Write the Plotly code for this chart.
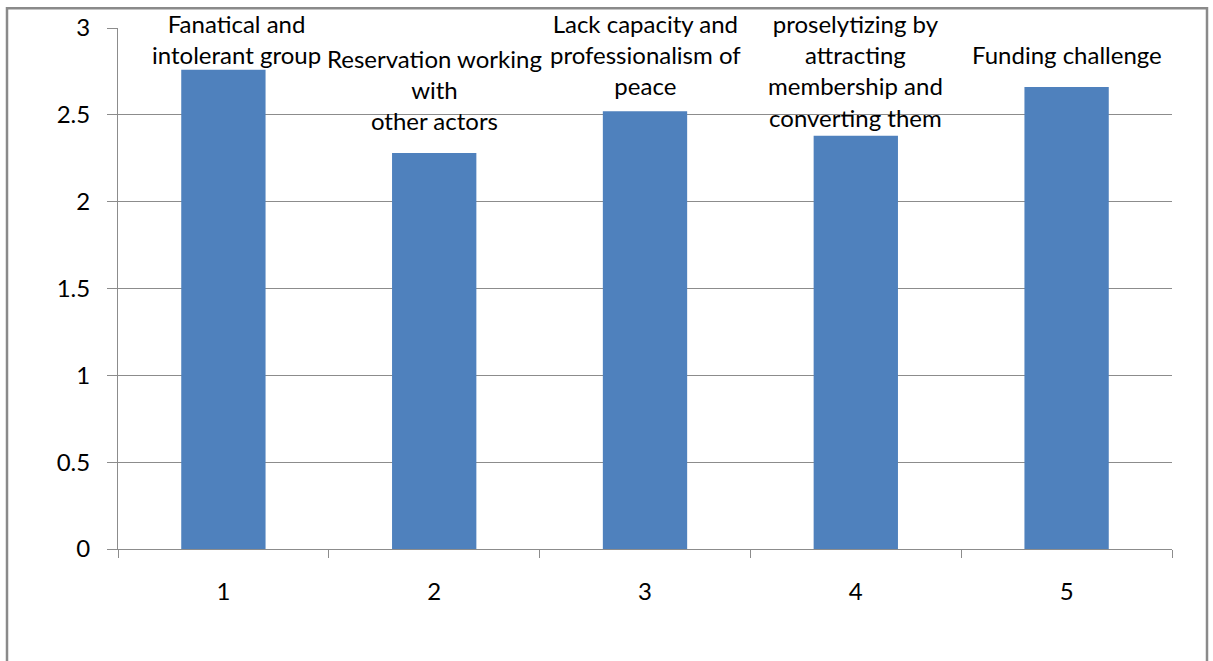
import plotly.graph_objects as go

# Chart data
categories = [1, 2, 3, 4, 5]
scores = [2.76, 2.28, 2.52, 2.38, 2.66]
labels = [
    ["Fanatical and", "intolerant group"],
    ["Reservation working", "with", "other actors"],
    ["Lack capacity and", "professionalism of", "peace"],
    ["proselytizing by", "attracting", "membership and", "converting them"],
    ["Funding challenge"],
]
label_xshift = [13, 0, 0, 0, 0]
y_ticks = [0, 0.5, 1, 1.5, 2, 2.5, 3]
y_tick_text = ["0", "0.5", "1", "1.5", "2", "2.5", "3"]

W, H = 1213, 661
M_L, M_R, M_T, M_B = 118, 41, 24, 112
PLOT_W = W - M_L - M_R
PLOT_H = H - M_T - M_B
Y_MAX = 3
PX_PER_UNIT = PLOT_H / Y_MAX

FONT = "Lato"
FS = 24
LINE_PX = 31
GAP_PX = 16
TOP_LIMIT_PX = 21
GRID = "#8c8c8c"
BAR = "#4f81bd"

fig = go.Figure(
    go.Bar(
        x=categories,
        y=scores,
        width=0.4,
        marker=dict(color=BAR, line=dict(width=0)),
        hoverinfo="skip",
    )
)

# Data labels above each bar, kept inside the chart area at the top
annotations = []
for xv, val, lines, dx in zip(categories, scores, labels, label_xshift):
    block_top = val * PX_PER_UNIT + GAP_PX + len(lines) * LINE_PX
    common = dict(
        x=xv, xref="x", text="<br>".join(lines), showarrow=False,
        font=dict(family=FONT, size=FS, color="#000000"),
        xanchor="center", align="center", xshift=dx,
    )
    if block_top > PLOT_H + TOP_LIMIT_PX:
        annotations.append(dict(**common, y=1, yref="paper", yanchor="top",
                                yshift=TOP_LIMIT_PX))
    else:
        annotations.append(dict(**common, y=val, yref="y", yanchor="bottom",
                                yshift=GAP_PX))

# Outer chart frame
fx0 = (7 - M_L) / PLOT_W
fx1 = (W - 6 - M_L) / PLOT_W
fy1 = (H - M_B - 4) / PLOT_H
fig.add_shape(type="rect", xref="paper", yref="paper",
              x0=fx0, x1=fx1, y0=-0.5, y1=fy1,
              line=dict(color="#8a8a8a", width=2.5), fillcolor="rgba(0,0,0,0)",
              layer="below")

fig.update_layout(
    width=W, height=H,
    margin=dict(l=M_L, r=M_R, t=M_T, b=M_B),
    paper_bgcolor="white", plot_bgcolor="white",
    showlegend=False,
    annotations=annotations,
    font=dict(family=FONT, size=FS, color="#000000"),
    xaxis=dict(
        range=[0.5, 5.5], tickmode="array", tickvals=categories,
        ticktext=[str(c) for c in categories],
        ticks="", showgrid=False, zeroline=False,
        showline=True, linecolor=GRID, linewidth=1,
        ticklabelstandoff=21,
        minor=dict(tickmode="array", tickvals=[0.5, 1.5, 2.5, 3.5, 4.5, 5.5],
                   ticks="outside", ticklen=8, tickcolor=GRID, tickwidth=1,
                   showgrid=False),
        fixedrange=True,
    ),
    yaxis=dict(
        range=[0, Y_MAX], tickmode="array", tickvals=y_ticks, ticktext=y_tick_text,
        ticks="outside", ticklen=10, tickcolor=GRID, tickwidth=1,
        showgrid=True, gridcolor=GRID, gridwidth=1,
        zeroline=False, showline=True, linecolor=GRID, linewidth=1,
        ticklabelstandoff=12,
        fixedrange=True,
    ),
)

fig.update_traces(cliponaxis=False)
fig.write_html("out.html")
